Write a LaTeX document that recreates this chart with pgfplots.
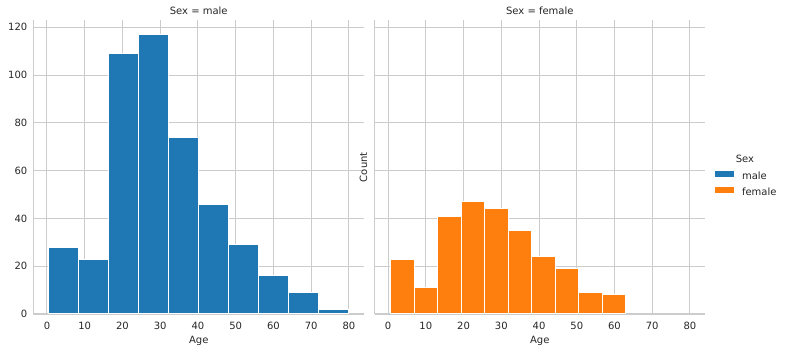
\documentclass[border=0pt]{standalone}
\usepackage{pgfplots}
\pgfplotsset{compat=1.18}
\usepackage{fontspec}
\setmainfont{DejaVu Sans}
\definecolor{c1}{HTML}{1F77B4}
\definecolor{c2}{HTML}{FF7F0E}
\definecolor{gridc}{HTML}{CCCCCC}
\definecolor{textc}{HTML}{262626}
\pgfplotsset{
  facet/.style={
    scale only axis, width=330.4bp, height=293.5bp,
    xmin=-3.559, xmax=83.979, ymin=0, ymax=122.85,
    axis lines*=left,
    axis line style={-, draw=gridc, line width=1.25bp},
    xtick={0,10,...,80}, ytick={0,20,...,120},
    grid=major, major grid style={draw=gridc, line width=1bp},
    major tick length=0pt,
    tick style={draw=none},
    /pgf/number format/assume math mode=true,
    tick label style={text=textc, inner sep=0pt, outer sep=0pt},
    xticklabel style={anchor=north},
    yticklabel style={anchor=east},
    xticklabel shift=8bp,
    yticklabel shift=6.2bp,
  }
}
\begin{document}
\fontsize{10bp}{12bp}\selectfont
\begin{tikzpicture}
\path (0bp,0bp) rectangle (785bp,352bp);
\begin{axis}[facet, at={(33.5bp,38bp)}, anchor=south west]
\addplot[ybar, bar width=7.958, fill=c1, draw=white, line width=1bp] coordinates {
(4.399,28) (12.357,23) (20.315,109) (28.273,117) (36.231,74)
(44.189,46) (52.147,29) (60.105,16) (68.063,9) (76.021,2)};
\end{axis}
\begin{axis}[facet, at={(374.6bp,38bp)}, anchor=south west,
  yticklabels={,,,,,,},
  legend style={at={(axis description cs:1.0303,0.4882)}, anchor=north west,
    draw=none, fill=none, inner sep=0pt, outer sep=0pt, row sep=6.3bp, column sep=0pt,
    nodes={inner sep=0pt, outer sep=0pt, text=textc}},
  legend cell align=left]
\addlegendimage{draw=none, fill=c1, legend image code/.code={\fill[c1,draw=none] (0bp,-0.5bp) rectangle (19bp,5.5bp); \path[draw=none,fill=none] (0bp,0bp) -- (27bp,0bp);}}
\addlegendentry{male}
\addplot[ybar, bar width=6.225, fill=c2, draw=white, line width=1bp,
  legend image code/.code={\fill[c2,draw=none] (0bp,-0.5bp) rectangle (19bp,5.5bp); \path[draw=none,fill=none] (0bp,0bp) -- (27bp,0bp);}] coordinates {
(3.8625,23) (10.0875,11) (16.3125,41) (22.5375,47) (28.7625,44)
(34.9875,35) (41.2125,24) (47.4375,19) (53.6625,9) (59.8875,8)};
\addlegendentry{female}
\end{axis}
\node[anchor=base, text=textc] at (198.75bp,337bp) {Sex = male};
\node[anchor=base, text=textc] at (539.8bp,337bp) {Sex = female};
\node[anchor=base, text=textc] at (198.75bp,8.7bp) {Age};
\node[anchor=base, text=textc] at (539.8bp,8.7bp) {Age};
\node[rotate=90, anchor=base, text=textc] at (367bp,184.75bp) {Count};
\node[anchor=base, text=textc] at (745bp,189bp) {Sex};
\end{tikzpicture}
\end{document}
